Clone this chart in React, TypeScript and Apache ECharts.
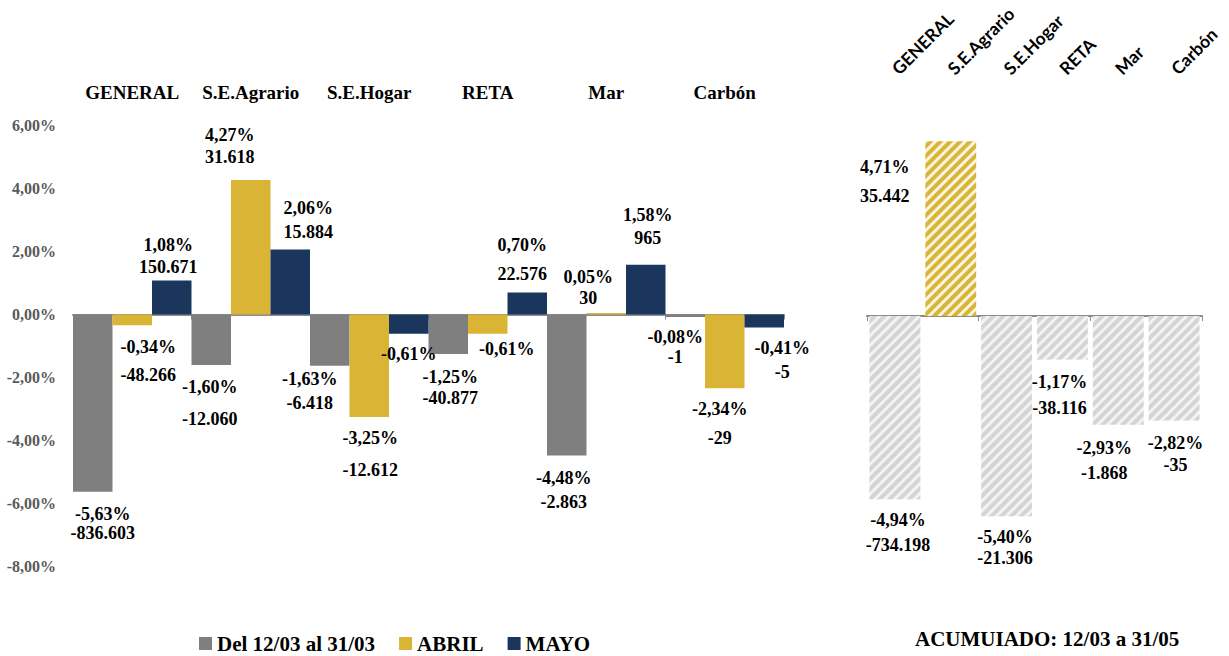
import React, { useEffect, useRef } from 'react';
import * as echarts from 'echarts';

// ---------- data ----------
const categories = ['GENERAL', 'S.E.Agrario', 'S.E.Hogar', 'RETA', 'Mar', 'Carbón'];
const seriesNames = ['Del 12/03 al 31/03', 'ABRIL', 'MAYO'];
const pctMarzo = [-5.63, -1.6, -1.63, -1.25, -4.48, -0.08];
const cntMarzo = [-836603, -12060, -6418, -40877, -2863, -1];
const pctAbril = [-0.34, 4.27, -3.25, -0.61, 0.05, -2.34];
const cntAbril: (number | null)[] = [-48266, 31618, -12612, null, 30, -29];
const pctMayo = [1.08, 2.06, -0.61, 0.7, 1.58, -0.41];
const cntMayo: (number | null)[] = [150671, 15884, null, 22576, 965, -5];
const pctAcum = [-4.94, 4.71, -5.4, -1.17, -2.93, -2.82];
const cntAcum = [-734198, 35442, -21306, -38116, -1868, -35];
const accumTitle = 'ACUMUIADO: 12/03 a 31/05';

// ---------- label placement (style): [dx, pct line dy, count line dy] relative to bar end ----------
const lpMarzo = [[10, 22, 41], [-1.5, 22.4, 54.4], [-20, 13.5, 37.5], [2, 23.4, 44.4], [-3, 22.7, 46.1], [-10, 20.3, 39.8]];
const lpAbril = [[16, 21.5, 49.8], [-21, -45, -23], [1, 21.4, 53.1], [19, 15.6, null], [-18, -36.2, -14.6], [-5, 21.1, 50.1]];
const lpMayo = [[-3.5, -35.5, -13.8], [18, -41.3, -17.9], [0, 20.5, null], [-5, -47.5, -18.5], [2, -49.7, -26.4], [18, 21, 44.3]];
const lpAcum = [[3, 20.7, 45.7], [-66, 25.4, 54.7], [-1.5, 21, 42], [-3, 22.3, 48.9], [-14, 23.6, 48.6], [1.5, 22.7, 44.4]];

const SERIF = "'Liberation Serif', 'DejaVu Serif', serif";
const SANS = "Lato, 'Open Sans', 'Noto Sans', sans-serif";

const fmtPct = (v: number) => v.toFixed(2).replace('.', ',') + '%';
const fmtCnt = (n: number) => (n < 0 ? '-' : '') + Math.abs(n).toString().replace(/\B(?=(\d{3})+(?!\d))/g, '.');

function buildData(pcts: number[], cnts: (number | null)[], lps: (number | null)[][], itemStyles?: any[]) {
  return pcts.map((v, i) => {
    const [dx, dP, dC] = lps[i] as number[];
    const c = cnts[i];
    const pos = v >= 0 ? 'top' : 'bottom';
    let oy: number;
    let L = 20;
    let text: string;
    if (c == null || dC == null) {
      oy = v >= 0 ? dP + 10 : dP - 10;
      text = `{p|${fmtPct(v)}}`;
    } else {
      L = 2 * (dC - dP - 10);
      oy = v >= 0 ? dC + L / 2 : dP - 10;
      text = `{p|${fmtPct(v)}}\n{c|${fmtCnt(c)}}`;
    }
    const item: any = {
      value: v,
      label: {
        show: true,
        position: pos,
        distance: 0,
        offset: [dx, oy],
        formatter: text,
        rich: {
          p: { fontFamily: SERIF, fontWeight: 'bold', fontSize: 18, color: '#000', lineHeight: 20 },
          c: { fontFamily: SERIF, fontWeight: 'bold', fontSize: 18, color: '#000', lineHeight: L },
        },
      },
    };
    if (itemStyles) item.itemStyle = itemStyles[i];
    return item;
  });
}

const hatch = (bg: string, fg: string) => ({
  color: bg,
  decal: {
    symbol: 'rect',
    symbolSize: 1,
    symbolKeepAspect: false,
    color: fg,
    dashArrayX: [1, 0],
    dashArrayY: [4, 3],
    rotation: -Math.PI / 4,
  },
});

export default function App() {
  const ref = useRef<HTMLDivElement>(null);
  useEffect(() => {
    const chart = echarts.init(ref.current!, null, { renderer: 'svg' });
    const axisGray = '#8c8c8c';
    const accStyles = pctAcum.map((v) => (v >= 0 ? hatch('#fbf5e0', '#d9b53a') : hatch('#f3f3f3', '#d4d4d4')));
    const option: any = {
      animation: false,
      backgroundColor: '#ffffff',
      grid: [
        { left: 73, top: 125.5, width: 711, height: 441, outerBoundsMode: 'none' },
        { left: 867, top: 93.4, width: 335, height: 445.2, outerBoundsMode: 'none' },
      ],
      legend: {
        data: seriesNames,
        left: 194,
        top: 628,
        itemWidth: 13,
        itemHeight: 13,
        itemGap: 24,
        icon: 'rect',
        textStyle: { fontFamily: SERIF, fontWeight: 'bold', fontSize: 21, color: '#000' },
      },
      xAxis: [
        {
          gridIndex: 0, type: 'category', data: categories, position: 'top',
          axisLine: { show: false, onZero: false }, axisTick: { show: false },
          axisLabel: { interval: 0, margin: 24, fontFamily: SERIF, fontWeight: 'bold', fontSize: 19, color: '#000' },
        },
        {
          gridIndex: 0, type: 'category', data: categories, position: 'bottom',
          axisLine: { show: true, onZero: true, lineStyle: { color: axisGray, width: 2 } },
          axisTick: { show: true, length: 5, lineStyle: { color: axisGray, width: 1 } },
          axisLabel: { show: false },
        },
        {
          gridIndex: 1, type: 'category', data: categories, position: 'top',
          axisLine: { show: false, onZero: false }, axisTick: { show: false },
          axisLabel: { interval: 0, rotate: -45, margin: 22, fontFamily: SANS, fontWeight: 'bold', fontSize: 17.5, color: '#000' },
        },
        {
          gridIndex: 1, type: 'category', data: categories, position: 'bottom',
          axisLine: { show: true, onZero: true, lineStyle: { color: axisGray, width: 2 } },
          axisTick: { show: true, length: 5, lineStyle: { color: axisGray, width: 1 } },
          axisLabel: { show: false },
        },
      ],
      yAxis: [
        {
          gridIndex: 0, type: 'value', min: -8, max: 6, interval: 2,
          axisLine: { show: false }, axisTick: { show: false }, splitLine: { show: false },
          axisLabel: {
            margin: 17, fontFamily: SERIF, fontWeight: 'bold', fontSize: 16, color: '#595959',
            formatter: (v: number) => fmtPct(v),
          },
        },
        {
          gridIndex: 1, type: 'value', min: -6, max: 6, show: false,
          splitLine: { show: false },
        },
      ],
      series: [
        {
          name: seriesNames[0], type: 'bar', xAxisIndex: 0, yAxisIndex: 0,
          barGap: '0%', barCategoryGap: '0%',
          itemStyle: { color: '#7f7f7f' },
          data: buildData(pctMarzo, cntMarzo, lpMarzo),
        },
        {
          name: seriesNames[1], type: 'bar', xAxisIndex: 0, yAxisIndex: 0,
          barGap: '0%', barCategoryGap: '0%',
          itemStyle: { color: '#dab535' },
          data: buildData(pctAbril, cntAbril, lpAbril),
        },
        {
          name: seriesNames[2], type: 'bar', xAxisIndex: 0, yAxisIndex: 0,
          barGap: '0%', barCategoryGap: '0%',
          itemStyle: { color: '#1a365d' },
          data: buildData(pctMayo, cntMayo, lpMayo),
        },
        {
          name: 'ACUMULADO', type: 'bar', xAxisIndex: 2, yAxisIndex: 1,
          barCategoryGap: '9%',
          data: buildData(pctAcum, cntAcum, lpAcum, accStyles),
        },
      ],
      graphic: [
        {
          type: 'text', left: 915, top: 628,
          style: { text: accumTitle, fontFamily: SERIF, fontWeight: 'bold', fontSize: 21, fill: '#000' },
        },
      ],
    };
    chart.setOption(option);
    return () => chart.dispose();
  }, []);
  return <div ref={ref} style={{ position: 'absolute', left: 0, top: 0, width: 1229, height: 656 }} />;
}
